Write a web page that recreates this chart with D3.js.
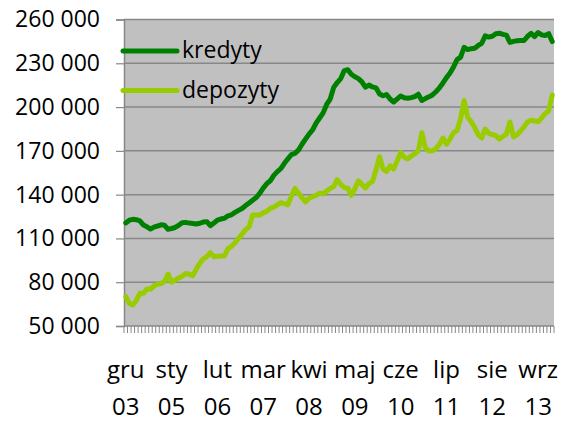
<!DOCTYPE html>
<html>
<head>
<meta charset="utf-8">
<script src="https://cdn.jsdelivr.net/npm/d3@7"></script>
<style>
  body { margin: 0; background: #fff; }
  svg text { font-family: "Open Sans", sans-serif; fill: #000; }
</style>
</head>
<body>
<svg id="chart" width="564" height="421"></svg>
<script>
// monthly values, gru 2003 .. sty 2014
const kredyty = [
  120600, 122500, 123100, 122800, 122000, 119200, 118000, 116400, 117800, 118500,
  119300, 119000, 116300, 116800, 117500, 119000, 120800, 121000, 120500, 120200,
  119900, 120400, 121200, 121500, 118700, 120500, 122600, 123300, 123800, 125500,
  126200, 127800, 129200, 130500, 132500, 134300, 136200, 138000, 140800, 144500,
  147500, 149500, 153200, 155800, 157800, 161500, 164500, 167500, 168300, 170500,
  174500, 178000, 181500, 184300, 189000, 192500, 196000, 201800, 205500, 213500,
  216800, 219500, 225000, 225600, 222500, 220800, 219500, 217300, 213600, 215100,
  213800, 213200, 209000, 207800, 208600, 205500, 203500, 205500, 207600, 206400,
  206000, 206500, 207200, 208800, 204500, 205800, 207000, 208300, 210500, 213200,
  216500, 220200, 223300, 227500, 232500, 234200, 241000, 239400, 240000, 240300,
  242200, 243700, 248800, 248000, 248500, 250300, 250600, 249800, 249300, 244300,
  245000, 245400, 245600, 245600, 248500, 250500, 248300, 251100, 249500, 249000,
  250300, 244900
];
const depozyty = [
  70100, 65500, 64400, 67500, 72400, 72400, 75300, 75100, 77500, 78500,
  79000, 80500, 85600, 80000, 81500, 83000, 84000, 86000, 85500, 84400,
  89000, 93000, 96000, 97500, 100200, 97500, 97800, 98000, 98000, 103000,
  104500, 107000, 110000, 113000, 116000, 118000, 126000, 126000, 126000, 127500,
  128500, 130600, 131500, 133000, 134500, 133800, 133000, 139000, 144300, 141000,
  138000, 135000, 137500, 138600, 139500, 141000, 140500, 142500, 144200, 145500,
  150300, 147000, 144800, 144400, 139500, 144000, 149500, 147000, 144600, 147500,
  149000, 157000, 166000, 157500, 156000, 159700, 157500, 163000, 169000, 165500,
  164500, 166500, 168000, 170000, 182500, 172000, 169900, 170000, 171500, 174500,
  178800, 174500, 178000, 182500, 184000, 192000, 204500, 193000, 190000, 186000,
  181000, 178800, 185000, 182000, 181200, 180500, 178000, 180000, 181500, 189800,
  179500, 181000, 183600, 186500, 189800, 191000, 190500, 190000, 192500, 195500,
  197500, 208300
];
const monthLabels = ["gru", "sty", "lut", "mar", "kwi", "maj", "cze", "lip", "sie", "wrz"];
const yearLabels = ["03", "05", "06", "07", "08", "09", "10", "11", "12", "13"];
const labelStep = 13;
const yTicks = [50000, 80000, 110000, 140000, 170000, 200000, 230000, 260000];
const seriesNames = ["kredyty", "depozyty"];
const seriesColors = ["#008000", "#99CC00"];

const margin = { top: 19.5, right: 10, bottom: 95, left: 124 };
const width = 564, height = 421;
const innerW = width - margin.left - margin.right;
const innerH = height - margin.top - margin.bottom;

const svg = d3.select("#chart");
const g = svg.append("g").attr("transform", `translate(${margin.left},${margin.top})`);

const x = d3.scaleBand().domain(d3.range(kredyty.length)).range([0, innerW]).padding(0);
const y = d3.scaleLinear().domain([50000, 260000]).range([innerH, 0]);

g.append("rect")
  .attr("width", innerW)
  .attr("height", innerH)
  .attr("fill", "#C0C0C0");

// gridlines
g.selectAll(".grid")
  .data(yTicks.slice(1))
  .join("line")
  .attr("x1", 0)
  .attr("x2", innerW)
  .attr("y1", (d) => y(d))
  .attr("y2", (d) => y(d))
  .attr("stroke", "#878787")
  .attr("stroke-width", 1.5);

// y axis
const fmt = (d) => d3.format(",")(d).replace(/,/g, " ");
const yAxis = d3.axisLeft(y).tickValues(yTicks).tickSize(8).tickPadding(16).tickFormat(fmt);
g.append("g")
  .call(yAxis)
  .call((a) => a.select(".domain").attr("stroke", "#878787").attr("stroke-width", 1.5))
  .call((a) => a.selectAll(".tick line").attr("stroke", "#878787").attr("stroke-width", 1.2))
  .call((a) => a.selectAll(".tick text").attr("font-size", 23).attr("font-family", "Open Sans").attr("fill", "#000"));

// x axis with a tick at each month boundary
const bounds = d3.range(kredyty.length + 1).map((i) => i * x.step());
g.append("line")
  .attr("x1", 0).attr("x2", innerW)
  .attr("y1", innerH).attr("y2", innerH)
  .attr("stroke", "#878787").attr("stroke-width", 1.5);
g.selectAll(".xtick")
  .data(bounds)
  .join("line")
  .attr("x1", (d) => d).attr("x2", (d) => d)
  .attr("y1", innerH).attr("y2", innerH + 7)
  .attr("stroke", "#878787").attr("stroke-width", 1);

const labels = g.selectAll(".xlab")
  .data(monthLabels)
  .join("text")
  .attr("text-anchor", "middle")
  .attr("font-size", 24)
  .attr("transform", (d, i) => `translate(${x(i * labelStep) + x.bandwidth() / 2},0)`);
labels.append("tspan").attr("x", 0).attr("y", 358.5).text((d) => d);
labels.append("tspan").attr("x", 0).attr("y", 395.5).text((d, i) => yearLabels[i]);

// lines
const line = d3.line()
  .x((d, i) => x(i) + x.bandwidth() / 2)
  .y((d) => y(d));

[depozyty, kredyty].forEach((data) => {
  const idx = data === kredyty ? 0 : 1;
  g.append("path")
    .datum(data)
    .attr("fill", "none")
    .attr("stroke", seriesColors[idx])
    .attr("stroke-width", 5)
    .attr("stroke-linejoin", "round")
    .attr("stroke-linecap", "round")
    .attr("d", line);
});

// legend
const legend = svg.append("g").attr("transform", "translate(122,51)");
seriesNames.forEach((name, i) => {
  const row = legend.append("g").attr("transform", `translate(0,${i * 39.5})`);
  row.append("line")
    .attr("x1", 1).attr("x2", 55)
    .attr("stroke", seriesColors[i])
    .attr("stroke-width", 5)
    .attr("stroke-linecap", "round");
  row.append("text")
    .attr("x", 60)
    .attr("y", 0)
    .attr("dy", "0.32em")
    .attr("font-size", 23)
    .text(name);
});
</script>
</body>
</html>
